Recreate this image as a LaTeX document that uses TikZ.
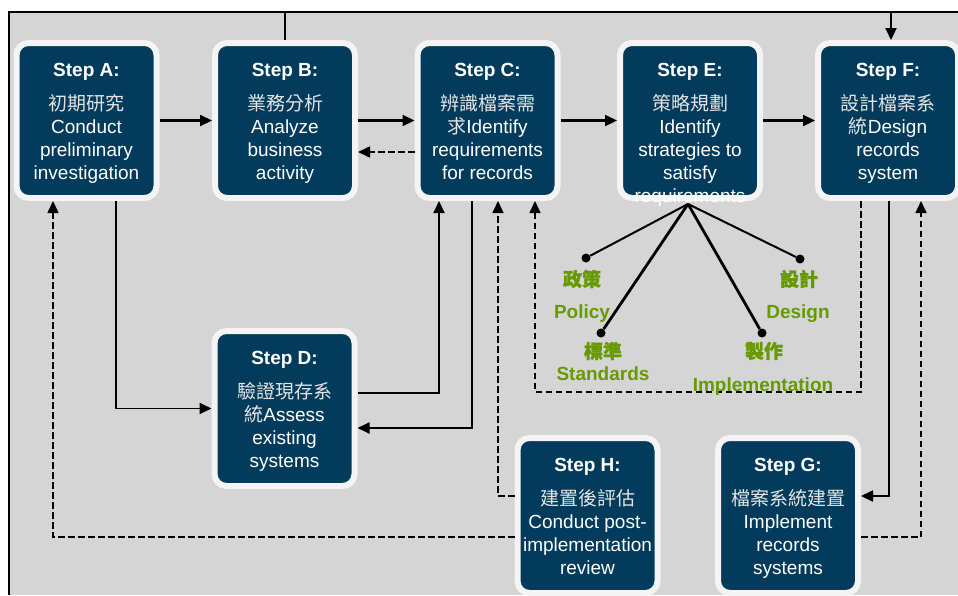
\documentclass[tikz,border=0pt]{standalone}
\usepackage{fontspec}
\setmainfont{Liberation Sans}
\newfontfamily\cjk{Noto Sans CJK TC}
\newfontfamily\cjkbold[FakeBold=1.2]{Noto Sans CJK TC}
\usetikzlibrary{arrows.meta}
\definecolor{navy}{HTML}{023B5B}
\definecolor{rim}{HTML}{F4F4F4}
\definecolor{panel}{HTML}{D5D5D5}
\definecolor{olive}{HTML}{679A00}
\definecolor{paleink}{HTML}{E4E4E4}
\tikzset{
  stepbox/.style={draw=rim, fill=navy, line width=6pt, rounded corners=12pt,
    minimum width=140pt, minimum height=155pt},
  steptext/.style={anchor=north, align=center, text=white, inner sep=0pt,
    font=\fontsize{19}{23}\selectfont},
  fwd/.style={line width=2.2pt, -{Triangle[length=12pt,width=11pt]}},
  fbk/.style={fwd, line width=1.6pt, dash pattern=on 6.5pt off 3.5pt},
  spoke/.style={line width=2pt},
  knob/.style={circle, fill=black, inner sep=0pt, minimum size=9pt},
  tag/.style={text=olive, inner sep=0pt, font=\bfseries\fontsize{19}{23}\selectfont}
}
\newcommand{\zh}[1]{{\cjk\color{paleink}#1}}
\begin{document}
\begin{tikzpicture}[x=1pt,y=-1pt]
\useasboundingbox (0,0) rectangle (958,595);
\fill[panel] (9,12) rectangle (958,595);
\draw[line width=2pt] (9,595) -- (9,12) -- (958,12);
\coordinate (top) at (0,12);
\coordinate (loopc) at (0,392);

\node[stepbox] (a) at (86.5,120.5) {};
\node[stepbox] (b) at (285,120.5) {};
\node[stepbox] (c) at (487.5,120.5) {};
\node[stepbox] (e) at (690,120.5) {};
\node[stepbox] (f) at (888,120.5) {};
\node[stepbox] (d) at (284.5,408.5) {};
\node[stepbox] (h) at (587.5,515.5) {};
\node[stepbox] (g) at (788,515.5) {};

\draw[fwd] (a.east) -- (b.west);
\draw[fwd] (b.east) -- (c.west);
\draw[fwd] (c.east) -- (e.west);
\draw[fwd] (e.east) -- (f.west);
\draw[fbk] ([yshift=-31.5pt]c.west) -- ([yshift=-31.5pt]b.east);
\draw[fwd] (b.north) -- (b.north |- top) -| ([xshift=3pt]f.north);
\draw[fwd, line width=1.8pt] ([xshift=29.5pt]a.south) |- (d.west);
\draw[fwd] ([yshift=15.5pt]d.east) -| ([xshift=-48.5pt]c.south);
\draw[fwd, line width=1.8pt] ([xshift=-15.5pt]c.south) |- ([yshift=-19.5pt]d.east);
\draw[fbk] ([yshift=19.5pt]h.west) -| ([xshift=10.5pt]c.south);
\draw[fbk] ([xshift=-27pt]f.south) -- ([xshift=-27pt]f.south |- loopc) -| ([xshift=47.5pt]c.south);
\draw[fwd] ([xshift=1pt]f.south) |- ([yshift=19.5pt]g.east);
\draw[fbk] ([yshift=-21.5pt]g.east) -| ([xshift=33pt]f.south);
\draw[fbk] ([yshift=-21.5pt]h.west) -| ([xshift=-33.5pt]a.south);

\node[steptext] (at) at ([yshift=-23pt]a.north) {\textbf{Step A:}\\[11pt]\zh{初期研究}\\Conduct\\preliminary\\investigation};
\node[steptext] (bt) at ([yshift=-23pt]b.north) {\textbf{Step B:}\\[11pt]\zh{業務分析}\\Analyze\\business\\activity};
\node[steptext] (ct) at ([yshift=-23pt]c.north) {\textbf{Step C:}\\[11pt]\zh{辨識檔案需}\\\zh{求}Identify\\requirements\\for records};
\node[steptext] (et) at ([yshift=-23pt]e.north) {\textbf{Step E:}\\[11pt]\zh{策略規劃}\\Identify\\strategies to\\satisfy\\requirements};
\node[steptext] (ft) at ([yshift=-23pt]f.north) {\textbf{Step F:}\\[11pt]\zh{設計檔案系}\\\zh{統}Design\\records\\system};
\node[steptext] (dt) at ([yshift=-23pt]d.north) {\textbf{Step D:}\\[11pt]\zh{驗證現存系}\\\zh{統}Assess\\existing\\systems};
\node[steptext] (ht) at ([yshift=-23pt]h.north) {\textbf{Step H:}\\[11pt]\zh{建置後評估}\\Conduct post-\\implementation\\review};
\node[steptext] (gt) at ([yshift=-23pt]g.north) {\textbf{Step G:}\\[11pt]\zh{檔案系統建置}\\Implement\\records\\systems};

\coordinate (hub) at (688,204);
\node[knob] (kpol) at (586,258) {};
\node[knob] (kstd) at (601,333) {};
\node[knob] (kimp) at (762,333) {};
\node[knob] (kdes) at (800,259) {};
\draw[spoke] (hub) -- (kpol);
\draw[spoke] (hub) -- (kdes);
\draw[spoke, line width=2.8pt] (hub) -- (kstd);
\draw[spoke, line width=2.8pt] (hub) -- (kimp);

\node[tag] (polzh) at (582,279) {\cjkbold 政策};
\node[tag] (polen) at (582,314) {Policy};
\node[tag] (deszh) at (799,279) {\cjkbold 設計};
\node[tag] (desen) at (798,314) {Design};
\node[tag] (stdzh) at (603,351) {\cjkbold 標準};
\node[tag] (stden) at (603,374) {Standards};
\node[tag] (impzh) at (764,351) {\cjkbold 製作};
\node[tag] (impen) at (763,387) {Implementation};
\end{tikzpicture}
\end{document}
